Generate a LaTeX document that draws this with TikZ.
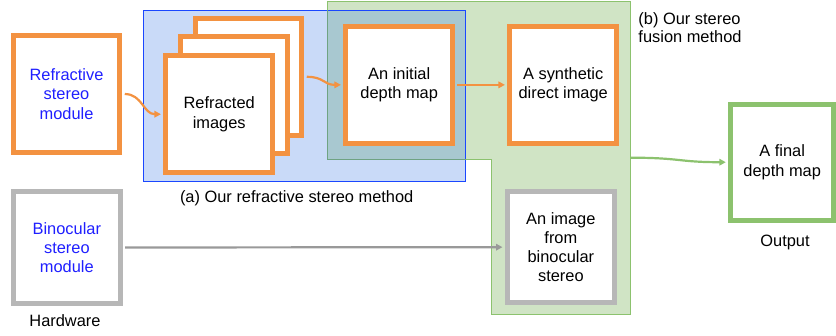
\documentclass[tikz,border=0pt]{standalone}
\usepackage{fontspec}
\setmainfont{Liberation Sans}
\usetikzlibrary{arrows.meta}
\definecolor{orng}{HTML}{F39241}
\definecolor{bluefill}{HTML}{C9DAF8}
\definecolor{blueline}{HTML}{1A47FF}
\definecolor{greenfill}{HTML}{D0E4C5}
\definecolor{greenline}{HTML}{8CC26E}
\definecolor{overlapfill}{HTML}{A8C8D0}
\definecolor{overlapline}{HTML}{6FA383}
\definecolor{greybox}{HTML}{B7B7B7}
\definecolor{greyline}{HTML}{999999}
\definecolor{txtblue}{HTML}{1F1FFF}
\tikzset{
 box/.style={draw, line width=5pt, fill=white, minimum width=106.5pt, minimum height=116.5pt, align=center, font=\fontsize{16.4}{19.2}\selectfont, inner sep=0pt},
 obox/.style={box, draw=orng},
 gbox/.style={box, draw=greybox},
 fbox/.style={box, draw=greenline},
 conn/.style={line width=2.2pt, -{Triangle[length=6.5pt,width=6.5pt]}, shorten >=2.5pt, shorten <=2.5pt},
 lbl/.style={font=\fontsize{16.4}{17.5}\selectfont, inner sep=0pt, align=left},
}
\begin{document}
\begin{tikzpicture}[x=1pt,y=-1pt]
\useasboundingbox (0,0) rectangle (836,335);
% regions
\def\greenpoly{(327.7,1.7) -- (630.7,1.7) -- (630.7,314.3) -- (491.7,314.3) -- (491.7,159.3) -- (327.7,159.3) -- cycle}
\fill[bluefill] (143.3,10.7) rectangle (465.7,181.7);
\fill[greenfill] \greenpoly;
\begin{scope}
\clip (143.3,10.7) rectangle (465.7,181.7);
\fill[overlapfill] \greenpoly;
\end{scope}
\draw[blueline, line width=1.3pt] (143.3,10.7) rectangle (465.7,181.7);
\draw[greenline, line width=1.5pt] \greenpoly;
\begin{scope}
\clip (143.3,10.7) rectangle (465.7,181.7);
\draw[overlapline, line width=1.5pt] \greenpoly;
\end{scope}
\coordinate (gr) at (630.7,157.7);
% nodes
\node[obox, text=txtblue] (rsm) at (66.5,94) {Refractive\\stereo\\module};
\node[obox] (back) at (248.5,76.8) {};
\node[obox] (mid) at (234.2,95.2) {};
\node[obox] (front) at (219.2,114.2) {Refracted\\images};
\node[obox] (init) at (399.2,84.85) {An initial\\depth map};
\node[obox] (syn) at (563.2,84.85) {A synthetic\\direct image};
\node[fbox, minimum width=102.7pt, minimum height=116pt] (fin) at (782.2,162.2) {A final\\depth map};
\node[gbox, minimum width=106.7pt, minimum height=110.7pt] (ibs) at (560.85,247.15) {An image\\from\\binocular\\stereo};
\node[gbox, minimum width=106.7pt, minimum height=111.4pt, text=txtblue] (bsm) at (66.85,247.5) {Binocular\\stereo\\module};
% labels
\node[lbl] (la) at (296.7,198.3) {(a) Our refractive stereo method};
\node[lbl] (lb) at (690,27.4) {(b) Our stereo\\fusion method};
\node[lbl] (lh) at (65,320.7) {Hardware};
\node[lbl] (lo) at (785,242.7) {Output};
% connectors
\draw[conn, orng] (rsm.east) .. controls +(20,0) and +(-20,0) .. (front.west);
\draw[conn, orng] (back.east) .. controls +(20,0) and +(-20,0) .. (init.west);
\draw[conn, orng] (init.east) -- (syn.west);
\draw[conn, greyline] (bsm.east) -- (ibs.west);
\draw[conn, greenline, shorten <=0pt] (gr) .. controls +(50,0) and +(-50,0) .. (fin.west);
\end{tikzpicture}
\end{document}
